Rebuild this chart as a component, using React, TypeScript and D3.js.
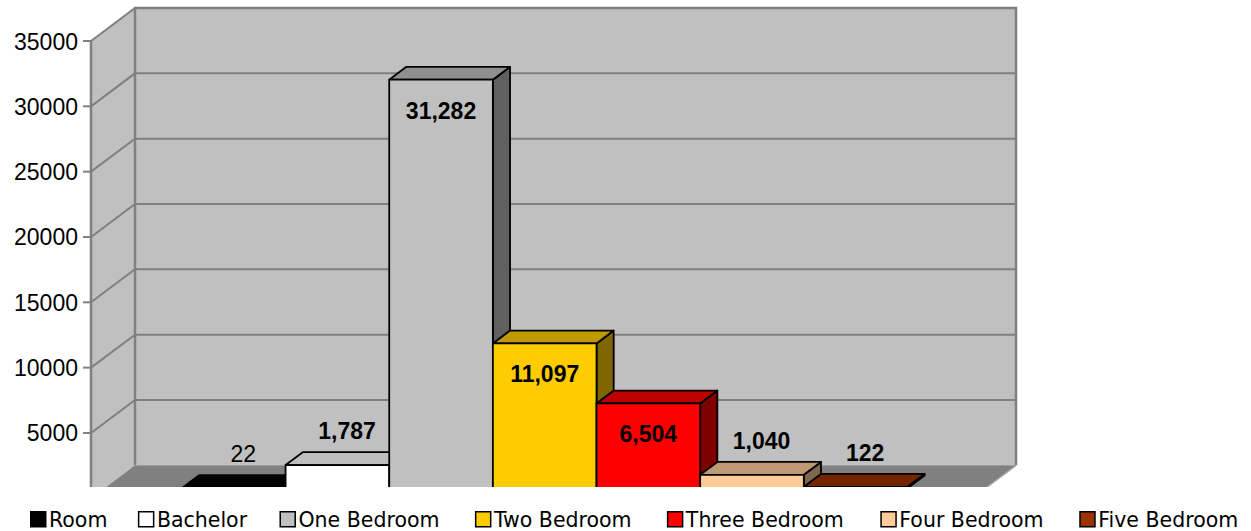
import React, { useEffect, useRef } from "react";
import * as d3 from "d3";

const categories = ["Room", "Bachelor", "One Bedroom", "Two Bedroom", "Three Bedroom", "Four Bedroom", "Five Bedroom"];
const values = [22, 1787, 31282, 11097, 6504, 1040, 122];
const colors = ["#000000", "#FFFFFF", "#C0C0C0", "#FFCC00", "#FF0000", "#FFCC99", "#993300"];
const labelInside = [false, false, true, true, true, false, false];
const labelBold = [false, true, true, true, true, true, true];
const yTicks = [5000, 10000, 15000, 20000, 25000, 30000, 35000];

const W = 1251;
const H = 531;

export default function App() {
  const ref = useRef<SVGSVGElement | null>(null);

  useEffect(() => {
    const svg = d3.select(ref.current);
    svg.selectAll("*").remove();

    const frontLeft = 91, frontRight = 972;
    const dx = 44, dy = 33;
    const d0 = 0.3, d1 = 0.69;
    const clipBottom = 487;

    const y = d3.scaleLinear().domain([0, 35000]).range([498.3, 41]);
    const x = d3.scaleBand<string>().domain(categories).range([frontLeft, frontRight]).paddingInner(0).paddingOuter(0.75);

    const P = (x3: number, v: number, d: number): [number, number] => [x3 + d * dx, y(v) - d * dy];
    const poly = (pts: [number, number][]) => "M" + pts.map(p => p.join(",")).join("L") + "Z";

    svg.append("defs").append("clipPath").attr("id", "plotclip")
      .append("rect").attr("x", 0).attr("y", 0).attr("width", W).attr("height", clipBottom);

    const g = svg.append("g").attr("clip-path", "url(#plotclip)");
    const wallFill = "#C0C0C0";
    const gridCol = "#808080";

    // back wall
    g.append("path").attr("d", poly([P(frontLeft, 35000, 1), P(frontRight, 35000, 1), P(frontRight, 0, 1), P(frontLeft, 0, 1)]))
      .attr("fill", wallFill);
    // side wall
    g.append("path").attr("d", poly([P(frontLeft, 35000, 0), P(frontLeft, 35000, 1), P(frontLeft, 0, 1), P(frontLeft, 0, 0)]))
      .attr("fill", wallFill);
    // floor
    g.append("path").attr("d", poly([P(frontLeft, 0, 1), P(frontRight, 0, 1), P(frontRight, 0, 0), P(frontLeft, 0, 0)]))
      .attr("fill", "#808080");

    // gridlines
    yTicks.forEach(t => {
      const a = P(frontLeft, t, 0), b = P(frontLeft, t, 1), c = P(frontRight, t, 1);
      g.append("path").attr("d", `M${a}L${b}L${c}`).attr("fill", "none").attr("stroke", gridCol).attr("stroke-width", 2);
    });
    // wall edges
    {
      const a = P(frontLeft, 0, 1), b = P(frontLeft, 35000, 1), c = P(frontRight, 35000, 1), e = P(frontRight, 0, 1);
      g.append("path").attr("d", `M${a}L${b}L${c}L${e}`).attr("fill", "none").attr("stroke", gridCol).attr("stroke-width", 2.5);
      const f0 = P(frontLeft, 0, 0), f1 = P(frontLeft, 35000, 0);
      g.append("path").attr("d", `M${f0}L${f1}`).attr("stroke", gridCol).attr("stroke-width", 2.5);
      const r0 = P(frontRight, 0, 1), r1 = P(frontRight, 0, 0);
      g.append("path").attr("d", `M${r0}L${r1}`).attr("stroke", "#A0A0A0").attr("stroke-width", 1.5);
    }

    // bars
    categories.forEach((c, i) => {
      const v = values[i];
      const L = x(c)!, R = L + x.bandwidth();
      const rgb = d3.rgb(colors[i]);
      const topC = d3.rgb(rgb.r * 0.75, rgb.g * 0.75, rgb.b * 0.75).formatHex();
      const sideC = d3.rgb(rgb.r * 0.5, rgb.g * 0.5, rgb.b * 0.5).formatHex();
      const sw = 1.8;
      g.append("path").attr("d", poly([P(R, 0, d0), P(R, 0, d1), P(R, v, d1), P(R, v, d0)]))
        .attr("fill", sideC).attr("stroke", "#000").attr("stroke-width", sw).attr("stroke-linejoin", "round");
      g.append("path").attr("d", poly([P(L, v, d0), P(L, v, d1), P(R, v, d1), P(R, v, d0)]))
        .attr("fill", topC).attr("stroke", "#000").attr("stroke-width", sw).attr("stroke-linejoin", "round");
      g.append("path").attr("d", poly([P(L, 0, d0), P(L, v, d0), P(R, v, d0), P(R, 0, d0)]))
        .attr("fill", colors[i]).attr("stroke", "#000").attr("stroke-width", sw).attr("stroke-linejoin", "round");
    });

    // data labels
    const fmt = d3.format(",");
    categories.forEach((c, i) => {
      const v = values[i];
      const cx = x(c)! + x.bandwidth() / 2;
      let px: number, py: number;
      if (labelInside[i]) {
        const p = P(cx, v, d0);
        px = p[0]; py = p[1] + 39;
      } else {
        const p = P(cx, v, (d0 + d1) / 2);
        const pb = P(cx, v, d1);
        px = p[0] + 1; py = pb[1] - 13;
      }
      svg.append("text").attr("x", px).attr("y", py).attr("text-anchor", "middle")
        .attr("font-family", "'Liberation Sans', Arial, sans-serif").attr("font-size", 23)
        .attr("font-weight", labelBold[i] ? "bold" : "normal").attr("fill", "#000")
        .text(fmt(v));
    });

    // y axis ticks and labels
    yTicks.forEach(t => {
      const p = P(frontLeft, t, 0);
      svg.append("line").attr("x1", p[0] - 8).attr("x2", p[0]).attr("y1", p[1]).attr("y2", p[1])
        .attr("stroke", gridCol).attr("stroke-width", 2);
      svg.append("text").attr("x", p[0] - 13).attr("y", p[1] + 8.5).attr("text-anchor", "end")
        .attr("font-family", "'Liberation Sans', Arial, sans-serif").attr("font-size", 23).attr("fill", "#000")
        .text(String(t));
    });

    // legend
    const lg = svg.append("g");
    let lx = 30;
    categories.forEach((c, i) => {
      lg.append("rect").attr("x", lx + 0.75).attr("y", 511.75).attr("width", 15).attr("height", 15)
        .attr("fill", colors[i]).attr("stroke", "#000").attr("stroke-width", 1.5);
      const t = lg.append("text").attr("x", lx + 19).attr("y", 527)
        .attr("font-family", "'DejaVu Sans', sans-serif")
        .attr("font-size", 20.5).attr("fill", "#000").text(c);
      const w = (t.node() as SVGTextElement).getComputedTextLength();
      lx += 46 + 1.06 * w;
    });
  }, []);

  return (
    <svg ref={ref} width={W} height={H} style={{ position: "absolute", left: 0, top: 0, background: "#fff" }} />
  );
}
